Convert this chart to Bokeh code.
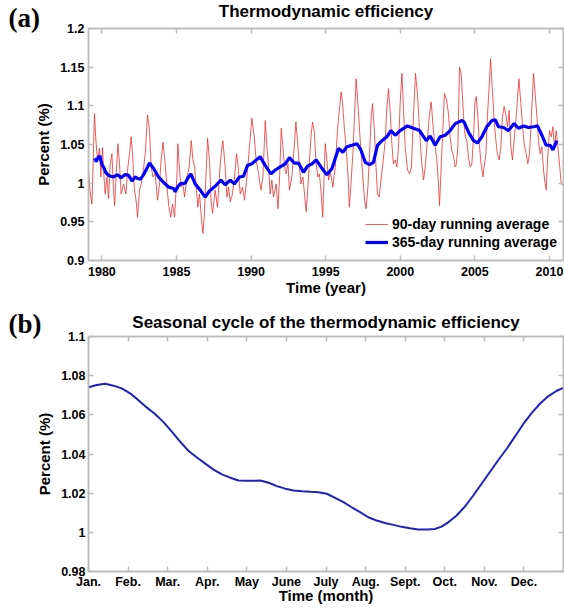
from bokeh.plotting import figure
from bokeh.models import (FixedTicker, LinearAxis, Range1d, Legend, LegendItem, Label)
from bokeh.layouts import column
from bokeh.embed import file_html
from bokeh.resources import INLINE

# ---------------- data ----------------
# (a) 90-day running average (year, percent)
red_years = [
    1979.10, 1979.20, 1979.33, 1979.42, 1979.50, 1979.58, 1979.70, 1979.84, 1979.93,
    1980.04, 1980.13, 1980.22, 1980.34, 1980.44, 1980.56, 1980.67, 1980.78, 1980.85, 1980.96,
    1981.07, 1981.18, 1981.29, 1981.45, 1981.61, 1981.74, 1981.85, 1981.96,
    1982.08, 1982.16, 1982.30, 1982.39, 1982.52, 1982.63, 1982.75, 1982.90,
    1983.06, 1983.19, 1983.30, 1983.42, 1983.57, 1983.73, 1983.86, 1983.97,
    1984.09, 1984.24, 1984.36, 1984.49, 1984.62, 1984.73, 1984.87,
    1985.03, 1985.09, 1985.20, 1985.29, 1985.43, 1985.54, 1985.70, 1985.85, 1985.99,
    1986.10, 1986.21, 1986.32, 1986.43, 1986.54, 1986.68, 1986.77, 1986.86, 1986.97,
    1987.08, 1987.21, 1987.31, 1987.41, 1987.59, 1987.75, 1987.88,
    1988.04, 1988.11, 1988.26, 1988.38, 1988.49, 1988.60, 1988.75, 1988.89,
    1989.02, 1989.11, 1989.27, 1989.42, 1989.56, 1989.72, 1989.89,
    1990.05, 1990.21, 1990.34, 1990.50, 1990.66, 1990.79, 1990.95,
    1991.06, 1991.17, 1991.28, 1991.39, 1991.50, 1991.68, 1991.80, 1991.91,
    1992.02, 1992.13, 1992.24, 1992.35, 1992.47, 1992.57, 1992.73, 1992.89,
    1993.00, 1993.11, 1993.22, 1993.34, 1993.47, 1993.58, 1993.69, 1993.81, 1993.91,
    1994.03, 1994.12, 1994.23, 1994.36, 1994.48, 1994.58, 1994.70, 1994.80, 1994.90, 1994.97,
    1995.08, 1995.19, 1995.30, 1995.48, 1995.64, 1995.79, 1995.90,
    1996.04, 1996.15, 1996.26, 1996.37, 1996.51, 1996.59, 1996.71, 1996.82, 1996.93,
    1997.04, 1997.16, 1997.27, 1997.38, 1997.49, 1997.60, 1997.71, 1997.83, 1997.94,
    1998.05, 1998.14, 1998.25, 1998.35, 1998.47, 1998.59, 1998.70, 1998.83, 1998.99,
    1999.10, 1999.21, 1999.32, 1999.42, 1999.54, 1999.66, 1999.77, 1999.88, 1999.99,
    2000.11, 2000.21, 2000.33, 2000.48, 2000.62, 2000.75, 2000.88,
    2001.02, 2001.15, 2001.29, 2001.42, 2001.56, 2001.67, 2001.78, 2001.94,
    2002.07, 2002.22, 2002.34, 2002.45, 2002.56, 2002.63, 2002.74, 2002.85, 2002.96,
    2003.10, 2003.23, 2003.34, 2003.45, 2003.55, 2003.68, 2003.75, 2003.86, 2003.97,
    2004.08, 2004.24, 2004.35, 2004.46, 2004.57, 2004.68, 2004.80, 2004.91,
    2005.00, 2005.09, 2005.20, 2005.31, 2005.42, 2005.54, 2005.62, 2005.74, 2005.84, 2005.96,
    2006.05, 2006.16, 2006.27, 2006.38, 2006.51, 2006.63, 2006.74, 2006.85, 2006.96,
    2007.08, 2007.19, 2007.30, 2007.41, 2007.52, 2007.63, 2007.77, 2007.95,
    2008.08, 2008.22, 2008.33, 2008.44, 2008.55, 2008.66, 2008.79, 2008.93,
    2009.04, 2009.16, 2009.26, 2009.38, 2009.49, 2009.60, 2009.71, 2009.78, 2009.87,
    2010.00, 2010.12, 2010.23, 2010.33, 2010.45, 2010.56, 2010.67, 2010.79, 2010.94,
]
red_values = [
    1.016, 0.990, 0.973, 1.030, 1.090, 1.060, 1.030, 1.045, 1.008,
    1.046, 1.010, 0.986, 1.008, 0.980, 1.025, 1.038, 0.991, 0.971, 1.012,
    1.051, 1.025, 0.986, 0.999, 0.986, 1.021, 1.038, 1.060,
    1.030, 0.995, 0.976, 0.956, 0.991, 0.999, 1.012, 1.038,
    1.088, 1.068, 1.021, 1.008, 1.012, 0.978, 0.999, 1.030,
    1.053, 1.025, 0.995, 0.969, 0.956, 0.973, 0.956,
    1.012, 1.051, 1.017, 0.995, 0.999, 0.982, 1.008, 1.021, 1.055,
    1.030, 1.021, 0.995, 0.969, 0.986, 0.952, 0.935, 0.956, 1.008,
    1.058, 1.030, 0.978, 0.961, 0.991, 0.969, 1.012,
    1.047, 1.055, 1.021, 0.982, 0.995, 0.976, 0.986, 1.008,
    1.038, 1.026, 0.986, 0.995, 0.978, 1.008, 1.047,
    1.084, 1.060, 1.030, 1.012, 0.991, 1.008, 1.081,
    1.047, 1.021, 0.986, 1.004, 0.982, 0.999, 0.967, 1.008,
    1.071, 1.047, 1.021, 1.012, 1.025, 0.991, 1.008, 1.047,
    1.079, 1.055, 1.025, 0.999, 1.008, 0.986, 0.963, 0.995, 1.030,
    1.064, 1.079, 1.068, 1.025, 1.008, 1.012, 0.986, 0.956, 1.012, 1.051,
    1.030, 1.004, 1.017, 0.995, 1.021, 1.068, 1.092,
    1.118, 1.099, 1.068, 1.047, 1.004, 0.969, 1.004, 1.038, 1.086,
    1.135, 1.103, 1.068, 1.038, 1.008, 0.978, 0.967, 0.995, 1.038,
    1.086, 1.103, 1.073, 1.030, 0.986, 0.982, 1.004, 1.025, 1.055,
    1.097, 1.122, 1.094, 1.055, 1.025, 1.030, 1.021, 1.047, 1.103,
    1.142, 1.099, 1.047, 1.017, 1.012, 1.021, 1.086,
    1.142, 1.116, 1.068, 1.030, 1.004, 1.021, 1.047, 1.086,
    1.105, 1.068, 1.047, 1.030, 0.999, 0.971, 1.021, 1.068, 1.116,
    1.108, 1.090, 1.060, 1.042, 1.036, 1.021, 1.024, 1.047, 1.150,
    1.142, 1.086, 1.060, 1.055, 1.034, 1.021, 1.025, 1.060,
    1.103, 1.112, 1.086, 1.047, 1.025, 1.008, 1.021, 1.038, 1.086, 1.125,
    1.161, 1.125, 1.088, 1.060, 1.038, 1.030, 1.047, 1.086, 1.099,
    1.088, 1.073, 1.094, 1.047, 1.030, 1.055, 1.086, 1.135,
    1.103, 1.068, 1.047, 1.038, 1.025, 1.038, 1.086, 1.142,
    1.116, 1.086, 1.055, 1.038, 1.047, 1.017, 0.999, 0.991, 1.030,
    1.068, 1.060, 1.073, 1.047, 1.068, 1.047, 1.025, 0.999, 0.997,
]

# (a) 365-day running average (year, percent)
blue_years = [
    1979.50, 1979.62, 1979.77, 1979.87, 1980.00, 1980.11, 1980.25, 1980.44, 1980.60, 1980.78,
    1981.05, 1981.27, 1981.56, 1981.79, 1982.01, 1982.23, 1982.40, 1982.57, 1982.79,
    1983.06, 1983.19, 1983.46, 1983.80, 1984.13, 1984.46, 1984.80, 1984.91,
    1985.10, 1985.25, 1985.58, 1985.74, 1985.96, 1986.25, 1986.59, 1986.92,
    1987.21, 1987.59, 1987.98, 1988.26, 1988.60, 1988.87, 1989.22, 1989.49, 1989.76,
    1990.05, 1990.34, 1990.61, 1990.94, 1991.33, 1991.62, 1991.95, 1992.29, 1992.57, 1992.89,
    1993.18, 1993.51, 1993.78, 1994.08, 1994.36, 1994.68, 1995.08, 1995.42, 1995.64, 1995.86,
    1996.15, 1996.42, 1996.76, 1997.09, 1997.36, 1997.65, 1997.94, 1998.20, 1998.47, 1998.77,
    1999.10, 1999.37, 1999.66, 1999.99, 2000.48, 2000.88, 2001.29, 2001.74, 2002.00, 2002.34,
    2002.67, 2003.01, 2003.34, 2003.68, 2004.13, 2004.28, 2004.57, 2004.91, 2005.17, 2005.47,
    2005.80, 2006.14, 2006.36, 2006.58, 2006.92, 2007.25, 2007.63, 2007.92, 2008.26, 2008.59,
    2008.93, 2009.20, 2009.49, 2009.78, 2010.05, 2010.23, 2010.50,
]
blue_values = [
    1.032, 1.028, 1.034, 1.035, 1.024, 1.021, 1.014, 1.010, 1.009, 1.008,
    1.011, 1.007, 1.011, 1.010, 1.003, 1.008, 1.006, 1.005, 1.011,
    1.021, 1.026, 1.019, 1.008, 1.001, 0.995, 0.993, 0.989,
    0.996, 0.999, 1.000, 1.006, 1.012, 0.999, 0.991, 0.982,
    0.990, 0.996, 1.004, 0.998, 1.004, 0.999, 1.008, 1.009, 1.023,
    1.025, 1.030, 1.034, 1.023, 1.012, 1.017, 1.021, 1.025, 1.033, 1.026,
    1.026, 1.014, 1.022, 1.025, 1.030, 1.021, 1.011, 1.019, 1.032, 1.045,
    1.040, 1.047, 1.049, 1.051, 1.043, 1.027, 1.024, 1.027, 1.049, 1.055,
    1.060, 1.068, 1.062, 1.068, 1.074, 1.071, 1.068, 1.055, 1.061, 1.049,
    1.060, 1.062, 1.068, 1.077, 1.081, 1.079, 1.066, 1.055, 1.052, 1.060,
    1.073, 1.081, 1.082, 1.073, 1.072, 1.068, 1.077, 1.071, 1.074, 1.072,
    1.073, 1.074, 1.062, 1.049, 1.049, 1.043, 1.055,
]

# (b) seasonal cycle (month position, Jan. = 0, percent)
month_pos = [
    0.00, 0.21, 0.42, 0.63, 0.84, 1.05, 1.26, 1.47, 1.68, 1.89, 2.11, 2.32, 2.53, 2.74, 2.95,
    3.16, 3.37, 3.58, 3.79, 4.00, 4.21, 4.34, 4.55, 4.76, 4.97, 5.18, 5.39, 5.60, 5.81, 6.02,
    6.23, 6.44, 6.65, 6.86, 7.07, 7.28, 7.49, 7.70, 7.91, 8.12, 8.33, 8.55, 8.75, 8.92, 9.09,
    9.30, 9.51, 9.72, 9.93, 10.14, 10.35, 10.57, 10.78, 10.98, 11.20, 11.41, 11.62, 11.83, 12.00,
]
seasonal_values = [
    1.0741, 1.0752, 1.0759, 1.0749, 1.0735, 1.0710, 1.0675, 1.0638, 1.0604, 1.0564, 1.0513,
    1.0462, 1.0415, 1.0382, 1.0351, 1.0320, 1.0296, 1.0279, 1.0265, 1.0264, 1.0264, 1.0265,
    1.0253, 1.0236, 1.0223, 1.0214, 1.0210, 1.0207, 1.0205, 1.0197, 1.0176, 1.0154, 1.0128,
    1.0103, 1.0077, 1.0060, 1.0048, 1.0038, 1.0028, 1.0021, 1.0015, 1.0014, 1.0017, 1.0029,
    1.0051, 1.0086, 1.0132, 1.0188, 1.0248, 1.0308, 1.0368, 1.0428, 1.0491, 1.0552, 1.0610,
    1.0658, 1.0696, 1.0723, 1.0738,
]

year_ticks = [1980, 1985, 1990, 1995, 2000, 2005, 2010]
year_labels = ["1980", "1985", "1990", "1995", "2000", "2005", "2010"]
eff_ticks_a = [0.9, 0.95, 1.0, 1.05, 1.1, 1.15, 1.2]
eff_labels_a = ["0.9", "0.95", "1", "1.05", "1.1", "1.15", "1.2"]
month_ticks = [0, 1, 2, 3, 4, 5, 6, 7, 8, 9, 10, 11]
month_labels = ["Jan.", "Feb.", "Mar.", "Apr.", "May", "June", "July", "Aug.", "Sept.",
                "Oct.", "Nov.", "Dec."]
eff_ticks_b = [0.98, 1.0, 1.02, 1.04, 1.06, 1.08, 1.1]
eff_labels_b = ["0.98", "1", "1.02", "1.04", "1.06", "1.08", "1.1"]

# ---------------- styling ----------------
FONT = "Liberation Sans"
SERIF = "Liberation Serif"
AX = "#bcbcbc"
W = 564
BL, BR = 88, 1


def base_axis(ax, ticks, labels, show_labels=True):
    ax.ticker = FixedTicker(ticks=ticks)
    ax.major_label_overrides = {t: (l if show_labels else "") for t, l in zip(ticks, labels)}
    ax.minor_tick_line_color = None
    ax.major_tick_in = 5
    ax.major_tick_out = 0
    ax.axis_line_color = AX
    ax.axis_line_width = 1.5
    ax.major_tick_line_color = AX
    ax.major_tick_line_width = 1.5
    ax.major_label_text_font = FONT
    ax.major_label_text_font_style = "bold"
    ax.major_label_text_color = "black"
    ax.axis_label_text_font = FONT
    ax.axis_label_text_font_style = "bold"
    ax.axis_label_text_color = "black"
    if show_labels:
        ax.major_label_text_font_size = "12.5px"
        ax.axis_label_text_font_size = "15px"
    else:
        ax.major_label_text_font_size = "0px"
        ax.major_label_standoff = 0


def make_panel(height, top, bottom, xr, yr, xt, xl, yt, yl, xlabel,
               x_standoff, x_label_standoff, y_standoff):
    p = figure(width=W, height=height, x_range=Range1d(*xr), y_range=Range1d(*yr),
               output_backend="svg", toolbar_location=None, title_location=None,
               min_border_left=BL, min_border_right=BR,
               min_border_top=top, min_border_bottom=bottom)
    p.grid.visible = False
    p.outline_line_color = AX
    p.outline_line_width = 1.5
    base_axis(p.xaxis[0], xt, xl)
    p.xaxis[0].axis_label = xlabel
    p.xaxis[0].major_label_standoff = x_standoff
    p.xaxis[0].axis_label_standoff = x_label_standoff
    base_axis(p.yaxis[0], yt, yl)
    p.yaxis[0].axis_label = "Percent (%)"
    p.yaxis[0].major_label_standoff = y_standoff
    p.yaxis[0].axis_label_standoff = 5
    top_ax = LinearAxis()
    base_axis(top_ax, xt, xl, show_labels=False)
    p.add_layout(top_ax, "above")
    right_ax = LinearAxis()
    base_axis(right_ax, yt, yl, show_labels=False)
    p.add_layout(right_ax, "right")
    return p


def canvas_to_data(fig_x, fig_y, height, top, bottom, xr, yr):
    fw = W - BL - BR
    fh = height - top - bottom
    x = xr[0] + (fig_x - BL) / fw * (xr[1] - xr[0])
    y = yr[1] + (top - fig_y) / fh * (yr[1] - yr[0])
    return x, y


def panel_letter(p, text, fig_x, fig_y, height, top, bottom, xr, yr):
    # side-panel labels are not clipped to the frame; "left" has spare room
    x, y = canvas_to_data(fig_x, fig_y, height, top, bottom, xr, yr)
    p.add_layout(Label(x=x, y=y, text=text, text_font=SERIF, text_font_style="bold",
                       text_font_size="27px", text_color="black",
                       text_align="left", text_baseline="middle"), "left")


def panel_title(p, text, fig_y, height, top, bottom, xr, yr):
    x, y = canvas_to_data(BL + (W - BL - BR) / 2, fig_y, height, top, bottom, xr, yr)
    p.add_layout(Label(x=x, y=y, text=text, text_font=FONT, text_font_style="bold",
                       text_font_size="17px", text_color="black",
                       text_align="center", text_baseline="middle"), "above")


# ---------------- panel (a) ----------------
H1, T1, B1 = 306, 28, 46
XR1, YR1 = (1979.1, 2010.94), (0.9, 1.2)
p1 = make_panel(H1, T1, B1, XR1, YR1, year_ticks, year_labels, eff_ticks_a, eff_labels_a,
                "Time (year)", 6, 0, 4)
r_red = p1.line(red_years, red_values, line_color="#e63232", line_width=0.8)
r_blue = p1.line(blue_years, blue_values, line_color="#0000ff", line_width=3.2)
legend = Legend(items=[LegendItem(label="90-day running average", renderers=[r_red]),
                       LegendItem(label="365-day running average", renderers=[r_blue])],
                location=(277, 9), padding=0, margin=0, spacing=0,
                glyph_width=23, glyph_height=18, label_height=18, label_standoff=4,
                label_text_font=FONT, label_text_font_style="bold",
                label_text_font_size="14px", label_text_color="black",
                background_fill_alpha=0, border_line_alpha=0)
p1.add_layout(legend)
panel_title(p1, "Thermodynamic efficiency", 11, H1, T1, B1, XR1, YR1)
panel_letter(p1, "(a)", 8, 17, H1, T1, B1, XR1, YR1)

# ---------------- panel (b) ----------------
H2, T2, B2 = 305, 30, 40
XR2, YR2 = (0, 12), (0.98, 1.1)
p2 = make_panel(H2, T2, B2, XR2, YR2, month_ticks, month_labels, eff_ticks_b, eff_labels_b,
                "Time (month)", 3, -5, 3)
p2.line(month_pos, seasonal_values, line_color="#2020c0", line_width=2)
panel_title(p2, "Seasonal cycle of the thermodynamic efficiency", 15.5, H2, T2, B2, XR2, YR2)
panel_letter(p2, "(b)", 8, 17, H2, T2, B2, XR2, YR2)

layout = column(p1, p2)
open("out.html", "w").write(file_html(layout, INLINE))
